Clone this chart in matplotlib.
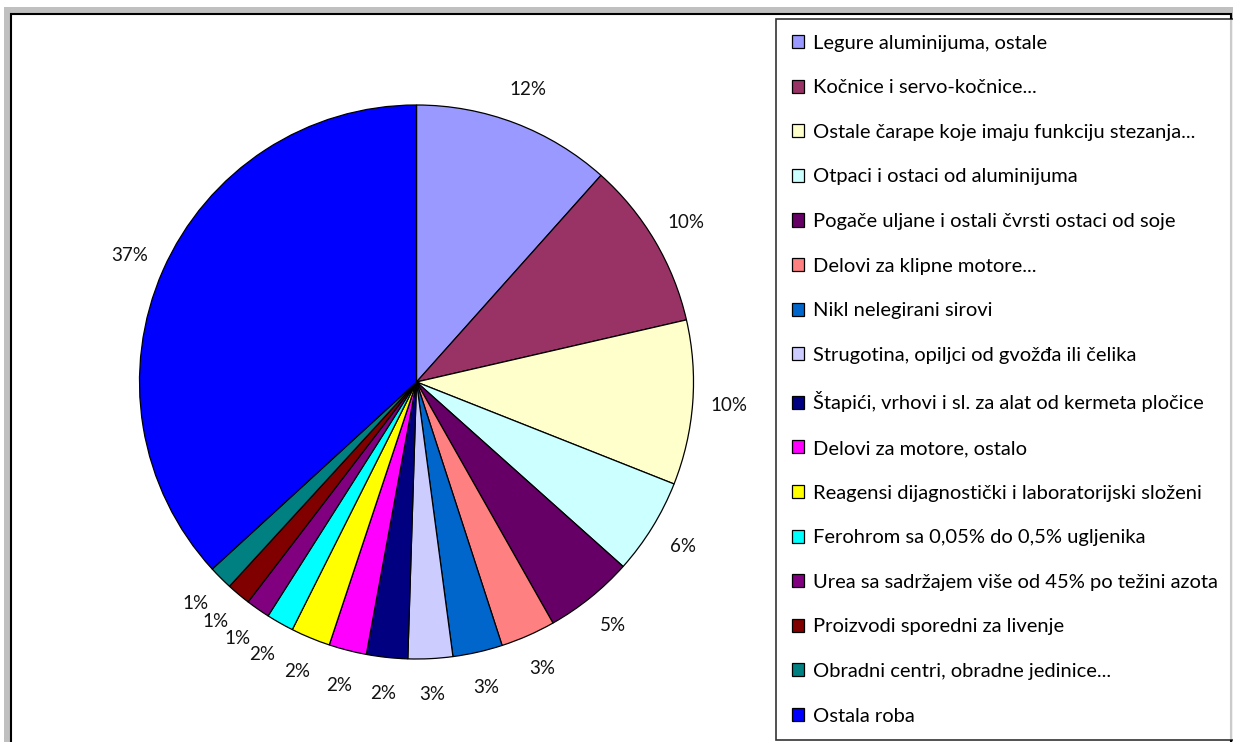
import matplotlib
matplotlib.use('Agg')
import matplotlib.pyplot as plt
from matplotlib.patches import Rectangle

plt.rcParams['font.family'] = ['Lato', 'DejaVu Sans']

# Podaci (udeo u %)
kategorije = [
    'Legure aluminijuma, ostale',
    'Kočnice i servo-kočnice...',
    'Ostale čarape koje imaju funkciju stezanja...',
    'Otpaci i ostaci od aluminijuma',
    'Pogače uljane i ostali čvrsti ostaci od soje',
    'Delovi za klipne motore...',
    'Nikl nelegirani sirovi',
    'Strugotina, opiljci od gvožđa ili čelika',
    'Štapići, vrhovi i sl. za alat od kermeta pločice',
    'Delovi za motore, ostalo',
    'Reagensi dijagnostički i laboratorijski složeni',
    'Ferohrom sa 0,05% do 0,5% ugljenika',
    'Urea sa sadržajem više od 45% po težini azota',
    'Proizvodi sporedni za livenje',
    'Obradni centri, obradne jedinice...',
    'Ostala roba',
]
udeli = [11.6, 9.8, 9.6, 5.6, 5.2, 3.2, 2.9, 2.6, 2.4, 2.2, 2.3, 1.6, 1.4, 1.4, 1.4, 36.8]
boje = ['#9999FF', '#993366', '#FFFFCC', '#CCFFFF', '#660066', '#FF8080',
        '#0066CC', '#CCCCFF', '#000080', '#FF00FF', '#FFFF00', '#00FFFF',
        '#800080', '#800000', '#008080', '#0000FF']

W, H = 1233, 742
fig = plt.figure(figsize=(W / 100, H / 100), dpi=100)

# okvir oko grafikona (sivi rub + crna linija)
fig.patches.append(Rectangle((4 / W, 0), 1 - 4 / W, 1 - 7 / H, transform=fig.transFigure,
                             facecolor='#c0c0c0', edgecolor='none', zorder=-3))
fig.patches.append(Rectangle((11 / W, -0.01), 1 - 13 / W, 1 - 14 / H + 0.01,
                             transform=fig.transFigure, facecolor='white',
                             edgecolor='black', linewidth=1.5, zorder=-2))

# pita
cx, cy, r = 416.5, 382, 277
ax = fig.add_axes([(cx - r) / W, (H - cy - r) / H, 2 * r / W, 2 * r / H])
wedges, texts, autotexts = ax.pie(
    udeli, colors=boje, startangle=90, counterclock=False,
    autopct='%.0f%%', pctdistance=1.13,
    wedgeprops=dict(edgecolor='black', linewidth=0.9),
    textprops=dict(fontsize=13.5, color='#111111'))
ax.set_xlim(-1, 1)
ax.set_ylim(-1, 1)
ax.set_aspect('equal')
ax.axis('off')

# legenda
leg = fig.legend(wedges, kategorije, loc='upper left',
                 bbox_to_anchor=(776 / W, 1 - 19 / H), borderaxespad=0,
                 fontsize=14.5, frameon=True, fancybox=False,
                 handlelength=0.62, handleheight=0.62, handletextpad=0.45,
                 labelspacing=1.37, borderpad=0.78)
leg.get_frame().set_edgecolor('black')
leg.get_frame().set_linewidth(1.2)

plt.savefig('out.png', dpi=100)
